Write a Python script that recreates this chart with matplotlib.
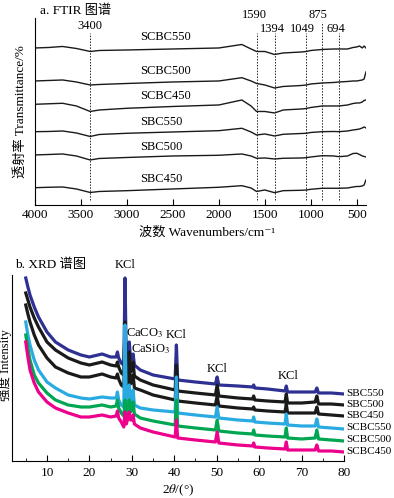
import numpy as np
import matplotlib
matplotlib.use("Agg")
from matplotlib import pyplot as plt

plt.rcParams['font.family'] = ['Liberation Serif', 'Noto Sans CJK SC', 'DejaVu Serif']
plt.rcParams['mathtext.fontset'] = 'stix'
plt.rcParams['font.size'] = 9.5

# ---- FTIR data (arbitrary transmittance units, curves stacked) ----
wavenumber = [4000, 3850, 3700, 3550, 3400, 3300, 3000, 2500, 2000, 1750, 1650, 1590, 1500, 1394,
              1300, 1100, 1049, 1000, 875, 750, 694, 600, 540, 500, 470, 440, 420, 400]
ftir_scbc550 = [162, 162.5, 163.5, 161.5, 158.5, 159.5, 160, 161, 162, 165.5, 161, 158.5, 158.5, 155.5,
                157, 158, 158.5, 159.5, 160.5, 161, 161, 161, 162.5, 163, 164, 162, 164, 162]
ftir_scbc500 = [129, 129.5, 130, 128, 125, 125.5, 126.5, 128, 129, 132.3, 129, 126.5, 125, 122,
                123.5, 124.5, 125, 126, 127, 127.5, 128, 128.5, 129, 129, 129.5, 130, 131, 138]
ftir_scbc450 = [105.7, 106.2, 106.7, 104, 98.5, 100, 101.7, 103.5, 105, 110, 104, 98.5, 98.5, 97,
                100, 101, 101.5, 102.5, 104, 104, 104, 105, 106.5, 107, 107, 108, 109.5, 110]
ftir_sbc550 = [78.3, 78.5, 79, 77, 73.5, 75.5, 76.7, 78, 79.3, 81.7, 78, 75, 76, 74,
               75.7, 76.5, 76.7, 77.5, 78.3, 78.5, 78.3, 79, 80, 80.5, 81, 82, 83, 82]
ftir_sbc500 = [55, 55.5, 56, 54, 50, 51.5, 52.5, 54, 54.7, 56, 54, 51.7, 52, 51,
               51.7, 52, 52.3, 53, 54.3, 54, 53.3, 54, 56.5, 56.7, 55.5, 54, 53.5, 53]
ftir_sbc450 = [22.3, 22.7, 23, 21, 17.5, 18.5, 19.3, 21, 22.7, 24.3, 22, 18.5, 20, 17.3,
               19.3, 19.7, 20, 20.7, 21.7, 21.7, 21.7, 22, 23, 23.5, 23.5, 24, 25, 30]
ftir_names = ['SCBC550', 'SCBC500', 'SCBC450', 'SBC550', 'SBC500', 'SBC450']
ftir_label_y = [173, 139, 114, 88, 63, 31]
peak_lines = [3400, 1590, 1394, 1049, 875, 694]
peak_labels = ['3400', '1590', '1394', '1049', '875', '694']

# ---- XRD data (arbitrary intensity units, curves stacked) ----
two_theta = [5, 5.5, 6, 7, 8, 10, 12, 15, 18, 20, 23, 25, 26.3, 26.6, 26.9, 27.5, 28.1, 28.4, 28.7,
             29.1, 29.4, 29.7, 30.0, 30.3, 30.6, 32, 35, 40.2, 40.5, 40.8, 45, 49.7, 50.1, 50.5,
             55, 58.5, 58.7, 59, 62, 66.1, 66.4, 66.7, 70, 73.2, 73.6, 74, 77, 80]
xrd_sbc550 = [202, 193, 185, 173, 163, 148, 138, 130, 125, 123, 126, 123, 123, 128, 122, 117, 115, 202,
              116, 122, 138, 120, 122, 126, 115, 110, 105, 101, 135, 100, 98, 96, 103, 95, 94, 93,
              95, 92, 91, 89, 94, 88, 88, 88, 92, 87, 87, 86]
xrd_sbc500 = [187, 180, 173, 162, 153, 138, 130, 122, 117, 115, 118, 115, 114, 118, 113, 107, 105, 158,
              106, 110, 128, 108, 110, 118, 104, 100, 95, 90, 115, 89, 87, 85, 95, 84, 82, 81,
              84, 80, 79, 78, 86, 77, 77, 78, 84, 76, 76, 75]
xrd_sbc450 = [175, 166, 158, 145, 135, 122, 113, 107, 103, 103, 106, 103, 102, 106, 101, 95, 93, 140,
              94, 98, 115, 96, 98, 105, 92, 90, 85, 80, 102, 79, 77, 75, 84, 74, 72, 71,
              73, 70, 69, 68, 76, 67, 67, 67, 73, 66, 65, 64]
xrd_scbc550 = [158, 145, 135, 120, 110, 98, 92, 85, 82, 81, 83, 82, 82, 88, 80, 75, 73, 155,
               74, 80, 95, 78, 82, 90, 75, 72, 70, 68, 103, 67, 65, 63, 73, 62, 60, 59,
               63, 58, 57, 56, 66, 55, 54, 54, 61, 53, 52, 51]
xrd_scbc500 = [145, 132, 120, 105, 97, 87, 80, 75, 73, 73, 75, 73, 74, 80, 72, 67, 64, 80,
               65, 70, 80, 68, 70, 78, 66, 62, 59, 55, 80, 54, 52, 50, 60, 49, 47, 46,
               50, 45, 44, 43, 52, 42, 41, 42, 50, 41, 40, 39]
xrd_scbc450 = [138, 123, 110, 97, 88, 78, 72, 67, 63, 63, 65, 63, 64, 69, 62, 58, 53, 68,
               56, 62, 68, 60, 60, 65, 56, 52, 48, 43, 60, 42, 40, 38, 48, 37, 35, 34,
               37, 33, 32, 31, 38, 30, 30, 30, 35, 29, 29, 28]
xrd_names = ['SBC550', 'SBC500', 'SBC450', 'SCBC550', 'SCBC500', 'SCBC450']
xrd_colors = ['#2e3192', '#1a1a1a', '#1a1a1a', '#29abe2', '#00a651', '#ec008c']
xrd_label_y = [86, 75, 64, 52, 40, 28]
phase_text = ['KCl', 'CaCO$_3$', 'CaSiO$_3$', 'KCl', 'KCl', 'KCl']
phase_x = [28.4, 28.6, 29.8, 40.5, 50.0, 66.9]
phase_y = [215, 147, 131, 145, 111, 104]
phase_ha = ['center', 'left', 'left', 'center', 'center', 'center']

fig = plt.figure(figsize=(3.94, 4.98), dpi=100)

# ---------------- a. FTIR ----------------
ax1 = fig.add_axes([0.0888, 0.5884, 0.840, 0.3755])
ftir = [ftir_scbc550, ftir_scbc500, ftir_scbc450, ftir_sbc550, ftir_sbc500, ftir_sbc450]
for y, name, ly in zip(ftir, ftir_names, ftir_label_y):
    ax1.plot(wavenumber, y, color='#1a1a1a', lw=1.0)
    ax1.text(2860, ly, name, ha='left', va='center', fontsize=9)
for w in peak_lines:
    top = 188 if w == 875 else 177
    ax1.plot([w, w], [10, top], color='#222222', lw=0.7, ls=(0, (1.5, 1.5)))
lab_x = [3400, 1610, 1420, 1095, 920, 725]
lab_y = [184, 195, 181, 181, 195, 181]
for t, x, y in zip(peak_labels, lab_x, lab_y):
    ax1.text(x, y, t, ha='center', va='center', fontsize=9, clip_on=False)
ax1.set_xlim(4000, 400)
ax1.set_ylim(5, 192)
ax1.set_xticks([4000, 3500, 3000, 2500, 2000, 1500, 1000, 500])
ax1.set_yticks([])
ax1.spines['top'].set_visible(False)
ax1.spines['right'].set_visible(False)
ax1.tick_params(axis='x', direction='in', length=4, pad=3, labelsize=9.5)
fig.text(0.1015, 0.979, 'a. FTIR 图谱', ha='left', va='center', fontsize=9.5)
fig.text(0.051, 0.775, '透射率 Transmittance/%', rotation=90, ha='center', va='center', fontsize=9.5)
fig.text(0.352, 0.534, '波数 Wavenumbers/cm⁻¹', ha='left', va='center', fontsize=9.5)

# ---------------- b. XRD ----------------
ax2 = fig.add_axes([0.0305, 0.0743, 0.8426, 0.3735])
xrd = [xrd_sbc550, xrd_sbc500, xrd_sbc450, xrd_scbc550, xrd_scbc500, xrd_scbc450]
for y, c, name, ly in zip(xrd, xrd_colors, xrd_names, xrd_label_y):
    ax2.plot(two_theta, y, color=c, lw=2.3, solid_joinstyle='round')
    ax2.text(80.5, ly, name, ha='left', va='center', fontsize=8, clip_on=False)
for t, x, y, ha in zip(phase_text, phase_x, phase_y, phase_ha):
    ax2.text(x, y, t, ha=ha, va='center', fontsize=9, clip_on=False)
ax2.set_xlim(1.76, 80)
ax2.set_ylim(19, 205)
ax2.set_xticks([10, 20, 30, 40, 50, 60, 70, 80])
ax2.set_xticks([5, 15, 25, 35, 45, 55, 65, 75], minor=True)
ax2.set_yticks([])
ax2.spines['top'].set_visible(False)
ax2.spines['right'].set_visible(False)
ax2.tick_params(axis='x', which='major', direction='in', length=4, pad=4, labelsize=9.5)
ax2.tick_params(axis='x', which='minor', direction='in', length=2)
fig.text(0.038, 0.468, 'b. XRD 谱图', ha='left', va='center', fontsize=9.5)
fig.text(0.0145, 0.267, '强度 Intensity', rotation=90, ha='center', va='center', fontsize=9)
fig.text(0.452, 0.016, r'2$\theta$/(°)', ha='center', va='center', fontsize=9.5)

fig.savefig('out.png', dpi=100)
